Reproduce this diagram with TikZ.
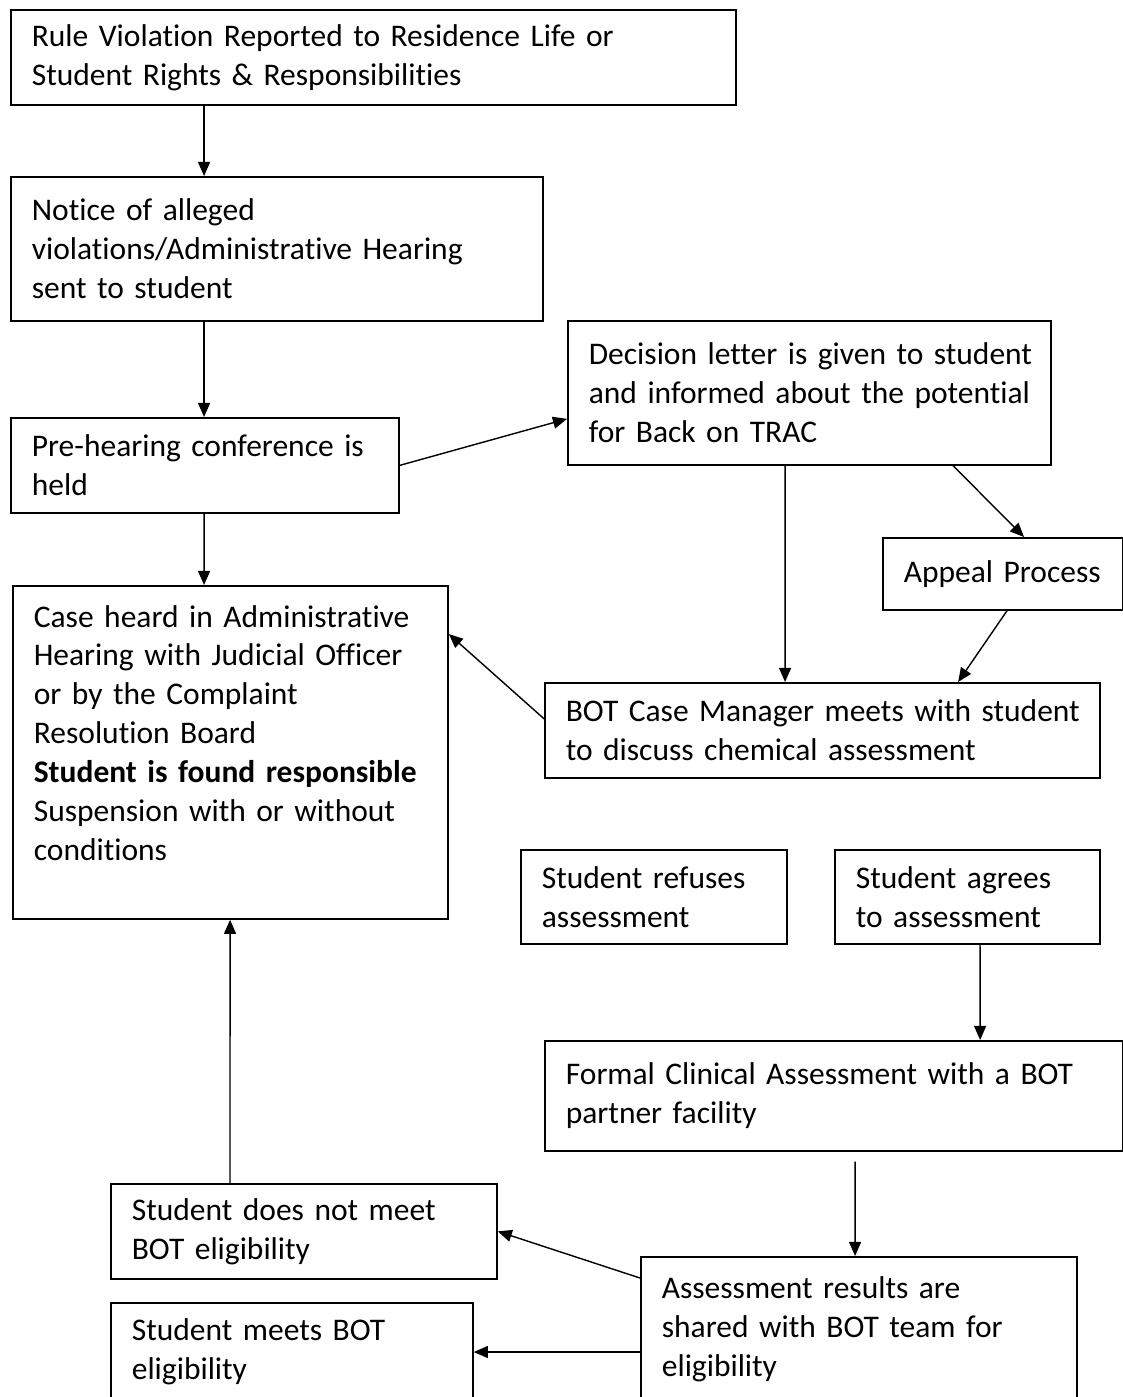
\documentclass[tikz,border=0pt]{standalone}
\usepackage{fontspec}
\setmainfont{Carlito}[Ligatures=NoCommon]
\usepackage{tikz}
\usetikzlibrary{arrows.meta, positioning, calc}

\begin{document}
\begin{tikzpicture}[
    x=0.025cm, y=-0.025cm,
    stage/.style={
        draw, line width=1.2pt, anchor=north west, align=left,
        inner xsep=0.525cm, inner ysep=0pt,
        font=\fontsize{22.4}{27.7}\selectfont
    },
    flow/.style={-{Triangle[length=10pt, width=8.5pt]}, line width=1pt},
]

\clip (0,0) rectangle (1123,1397);

% ===== LEFT COLUMN: hearing path =====
\node[stage, text width=17.075cm, minimum height=2.375cm] (rule) at (10,9) {%
    Rule Violation Reported to Residence Life or\\
    Student Rights \& Responsibilities%
};

\node[stage, text width=12.25cm, minimum height=3.6cm] (notice) at (10,176) {%
    Notice of alleged\\
    violations/Administrative Hearing\\
    sent to student%
};

\node[stage, text width=8.65cm, minimum height=2.375cm] (prehear) at (10,417) {%
    Pre-hearing conference is\\
    held%
};

\node[stage, text width=9.825cm, minimum height=8.325cm] (caseheard) at (12,585) {%
    Case heard in Administrative\\
    Hearing with Judicial Officer\\
    or by the Complaint\\
    Resolution Board\\
    \textbf{Student is found responsible}\\
    Suspension with or without\\
    conditions\\
    \mbox{}%
};

% ===== RIGHT COLUMN: Back on TRAC =====
\node[stage, text width=11.025cm, minimum height=3.6cm] (decision) at (567,320) {%
    \mbox{Decision letter is given to student}\\
    \mbox{and informed about the potential}\\
    for Back on TRAC%
};

\node[stage, text width=4.95cm, minimum height=1.8cm] (appeal) at (882,537) {Appeal Process};

\node[stage, text width=12.825cm, minimum height=2.375cm] (casemgr) at (544,682) {%
    \mbox{BOT Case Manager meets with student}\\
    to discuss chemical assessment%
};

\node[stage, text width=5.6cm, minimum height=2.35cm] (refuses) at (520,849) {%
    Student refuses\\
    assessment%
};

\node[stage, text width=5.575cm, minimum height=2.35cm] (agrees) at (834,849) {%
    Student agrees\\
    to assessment%
};

\node[stage, text width=13.4cm, minimum height=2.75cm] (clinical) at (544,1040) {%
    Formal Clinical Assessment with a BOT\\
    partner facility%
};

% ===== BOTTOM: eligibility =====
\node[stage, text width=9.85cm, minimum height=3.6cm] (results) at (640,1256) {%
    Assessment results are\\
    shared with BOT team for\\
    eligibility%
};

\node[stage, text width=8.6cm, minimum height=2.375cm] (notmeet) at (110,1183) {%
    Student does not meet\\
    BOT eligibility%
};

\node[stage, text width=8.0cm, minimum height=2.425cm] (meets) at (110,1302) {%
    Student meets BOT\\
    eligibility%
};

% Connectors
\draw[flow] ([xshift=4.85cm]rule.south west) -- ([xshift=4.85cm]notice.north west);
\draw[flow] ([xshift=4.85cm]notice.south west) -- ([xshift=4.85cm]prehear.north west);
\draw[flow] ([xshift=4.85cm]prehear.south west) -- ([xshift=4.8cm]caseheard.north west);
\draw[flow] (prehear.east) -- ([yshift=-0.65cm]decision.west);
\draw[flow] ([xshift=5.45cm]decision.south west) -- ([xshift=6.025cm]casemgr.north west);
\draw[flow] ([xshift=9.65cm]decision.south west) -- ([xshift=3.55cm]appeal.north west);
\draw[flow] ([xshift=3.125cm]appeal.south west) -- ([xshift=10.35cm]casemgr.north west);
\draw[flow] ([yshift=0.29cm]casemgr.west) -- ([yshift=-1.225cm]caseheard.north east);
\draw[flow] ([xshift=3.65cm]agrees.south west) -- ([xshift=10.9cm]clinical.north west);
\draw[flow, shorten <=0.25cm] ([xshift=7.775cm]clinical.south west) -- ([xshift=5.375cm]results.north west);
\draw[flow] ([yshift=-0.55cm]results.north west) -- (notmeet.east);
\draw[flow] ([yshift=-2.4cm]results.north west) -- ([yshift=-2.4cm]results.north west -| meets.east);
\draw[flow] ([xshift=3cm]notmeet.north west) -- ([xshift=5.45cm]caseheard.south west);

\end{tikzpicture}
\end{document}
